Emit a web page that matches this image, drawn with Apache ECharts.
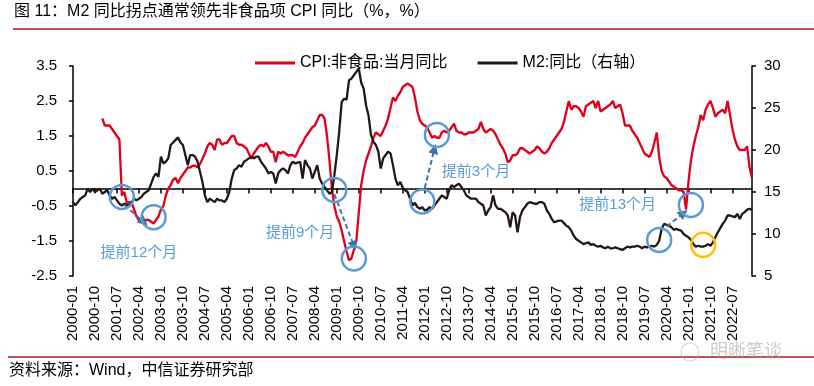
<!DOCTYPE html>
<html><head><meta charset="utf-8">
<script src="https://cdn.jsdelivr.net/npm/echarts@6/dist/echarts.min.js"></script>
<style>html,body{margin:0;padding:0;background:#fff;}#c{width:814px;height:386px;}</style>
</head><body><div id="c"></div>
<script>
// ---- data ----
const startYear = 2000;
const monthCount = 279; // 2000-01 .. 2023-03
const categories = [];
for (let k = 0; k < monthCount; k++) {
  const y = startYear + Math.floor(k / 12), m = (k % 12) + 1;
  categories.push(y + '-' + (m < 10 ? '0' : '') + m);
}
// CPI: non-food, yoy (%), left axis
const cpiNonFood = [
  null,null,null,null,null,null,null,null,null,null,null,null,
  2.0,1.8,1.8,1.8,1.7,1.6,1.5,1.4,-0.2,-0.1,-0.4,-0.4,
  -0.4,-0.6,-0.8,-0.9,-0.95,-0.9,-0.9,-0.9,-0.95,-1.0,-0.9,-0.8,
  -0.6,-0.5,-0.2,0.0,0.1,0.25,0.3,0.15,0.3,0.4,0.5,0.6,
  0.6,0.65,0.65,0.6,0.7,0.85,1.0,1.2,1.3,1.25,1.1,1.4,
  1.4,1.25,1.3,1.3,1.4,1.5,1.5,1.3,1.25,1.25,1.2,1.15,
  1.0,0.85,1.0,1.1,1.2,1.25,1.2,1.3,1.2,1.05,1.05,0.75,
  1.05,1.0,1.05,1.0,0.95,0.95,0.95,0.9,1.05,1.2,1.3,1.45,
  1.55,1.65,1.75,1.8,1.95,2.1,2.1,2.0,1.5,0.8,0.0,-0.5,
  -0.8,-0.95,-1.2,-1.5,-1.8,-2.05,-2.0,-1.75,-1.5,-0.7,0.1,0.5,
  0.8,1.0,1.2,1.45,1.6,1.55,1.5,1.65,1.8,2.0,2.3,2.6,
  2.5,2.65,2.75,2.9,2.95,3.0,2.95,2.9,2.6,2.2,1.95,1.85,
  1.8,1.75,1.6,1.45,1.5,1.45,1.45,1.6,1.65,1.6,1.65,1.75,
  1.85,1.65,1.6,1.6,1.55,1.55,1.6,1.6,1.6,1.65,1.7,1.9,
  1.7,1.6,1.65,1.7,1.65,1.55,1.4,1.25,1.15,1.0,0.75,0.8,
  0.95,0.95,1.0,1.15,1.15,1.1,1.05,1.0,1.05,1.1,1.2,1.15,
  1.05,1.0,1.05,1.15,1.3,1.4,1.5,1.6,1.7,1.9,2.2,2.5,
  2.25,2.35,2.35,2.3,2.2,2.05,2.35,2.4,2.45,2.5,2.3,2.5,
  2.2,2.25,2.3,2.35,2.4,2.5,2.3,2.35,2.4,2.15,1.8,1.8,
  1.8,1.65,1.55,1.45,1.3,1.15,1.0,0.95,0.9,1.05,1.3,1.6,
  0.9,0.5,0.35,0.3,0.2,0.1,0.05,0.0,-0.05,-0.05,-0.1,-0.6,
  0.2,0.8,1.2,1.5,1.75,2.1,1.95,2.25,2.4,2.5,2.3,2.05,
  2.15,2.2,2.25,2.15,2.5,2.1,1.7,1.4,1.2,1.1,1.1,1.1,
  1.2,0.6,0.3
];
// M2 yoy (%), right axis
const m2Yoy = [
  13.8,13.4,13.8,14.2,14.4,14.6,15.4,15.0,15.4,15.0,15.2,15.4,
  14.8,15.0,15.2,14.6,14.2,14.4,14.0,13.6,13.4,13.6,13.5,13.4,
  13.8,14.2,14.0,14.2,14.4,14.8,15.0,15.2,16.0,16.8,17.2,16.8,
  19.2,18.4,18.6,19.0,20.6,20.9,21.2,21.5,20.9,20.6,19.4,18.2,
  19.4,19.4,19.2,18.6,17.4,16.2,14.6,13.8,14.2,14.0,13.8,14.2,
  14.0,14.0,13.8,14.2,15.0,16.6,17.6,17.8,18.2,18.0,18.6,18.8,
  19.0,19.2,19.0,19.2,19.2,18.6,18.2,17.8,17.2,17.4,17.2,16.0,
  17.2,17.6,17.8,17.6,17.2,18.2,18.6,18.4,18.5,18.6,16.6,18.8,
  18.2,17.8,16.6,17.4,18.2,16.6,16.0,15.6,15.2,14.8,15.0,17.0,
  19.4,22.2,25.7,26.1,26.0,28.3,28.5,28.9,29.3,29.7,28.0,27.3,
  25.3,24.1,21.8,21.0,20.6,19.8,17.8,19.0,19.4,19.8,19.6,18.2,
  16.6,15.8,16.2,15.5,15.2,15.0,14.2,13.4,13.7,13.2,13.0,13.2,
  12.8,12.9,13.2,13.0,13.4,13.8,14.2,14.6,14.4,14.2,15.2,15.8,
  15.6,15.8,16.0,15.6,15.2,14.6,14.4,14.2,14.2,14.2,13.8,13.6,
  13.4,12.2,12.8,13.2,14.6,13.4,13.0,13.0,12.8,12.6,12.2,10.8,
  12.6,12.2,10.2,12.0,12.8,13.2,13.6,13.8,13.7,13.6,13.6,13.8,
  13.8,13.6,12.8,12.4,11.8,11.4,11.5,11.6,11.6,11.3,11.0,10.8,
  10.4,9.8,9.4,9.2,9.0,8.8,8.9,9.0,8.7,8.8,8.6,8.5,
  8.6,8.4,8.3,8.5,8.3,8.3,8.4,8.3,8.2,8.1,8.3,8.5,
  8.4,8.5,8.5,8.6,8.5,8.3,8.5,8.4,8.5,8.6,8.5,8.7,
  9.2,10.6,11.2,11.1,11.0,10.8,10.5,10.6,10.5,10.4,10.0,9.8,
  9.6,9.3,8.8,8.5,8.6,8.5,8.5,8.6,8.8,8.6,9.0,9.6,
  10.2,10.7,11.2,11.6,12.2,12.2,12.1,12.0,12.4,11.8,12.4,12.6,
  12.9,13.0,12.9
];
const leftTickLabels = ['-2.5','-1.5','-0.5','0.5','1.5','2.5','3.5'];
const rightTickLabels = ['5','10','15','20','25','30'];
const seriesNames = ['CPI:非食品:当月同比', 'M2:同比（右轴）'];

// annotation anchors in data space (category index, left-axis value)
const blueCircles = [[20,-0.24],[33,-0.82],[107,-0.04],[115,-2.0],[149,1.53],[143,-0.37],[240,-1.47],[253,-0.47]];
const orangeCircles = [[258,-1.61]];
const arrows = [[[21,-0.47],[29,-0.96]],[[107,-0.16],[115,-1.64]],[[144,0.01],[148,1.13]],[[243,-1.09],[250,-0.7]]];
const notes = [['提前12个月',27,-1.84],['提前9个月',93,-1.27],['提前3个月',165,0.47],['提前13个月',223,-0.46]];

// ---- chart ----
const FONT = '"Liberation Sans", "Noto Sans CJK SC", sans-serif';
const RED = '#e1001a', BLACK = '#231815', BLUE = '#5b9bd5', ARROW = '#44739f';
const chart = echarts.init(document.getElementById('c'), null, {renderer: 'canvas'});

const markData = [];
blueCircles.forEach(c => markData.push({coord: c, symbol: 'circle', symbolSize: 24,
  itemStyle: {color: 'rgba(0,0,0,0)', borderColor: BLUE, borderWidth: 2.5}, label: {show: false}}));
orangeCircles.forEach(c => markData.push({coord: c, symbol: 'circle', symbolSize: 24,
  itemStyle: {color: 'rgba(0,0,0,0)', borderColor: '#ffc000', borderWidth: 2.5}, label: {show: false}}));
notes.forEach(n => markData.push({coord: [n[1], n[2]], symbol: 'circle', symbolSize: 1,
  itemStyle: {color: 'rgba(0,0,0,0)'},
  label: {show: true, position: 'inside', formatter: n[0], color: BLUE, fontSize: 15, fontFamily: FONT}}));

chart.setOption({
  animation: false,
  textStyle: {fontFamily: FONT},
  grid: {left: 73, right: 62, top: 66, bottom: 110, containLabel: false},
  legend: {
    left: 250, top: 50, itemWidth: 40, itemHeight: 3, itemGap: 30, icon: 'rect',
    textStyle: {fontSize: 16, color: '#000', fontFamily: FONT},
    data: seriesNames
  },
  xAxis: [
    {type: 'category', data: categories, boundaryGap: false,
     axisLine: {onZero: true, lineStyle: {color: '#000', width: 1.5}},
     axisTick: {show: true, interval: 8, length: 5, lineStyle: {color: '#000', width: 1.5}},
     axisLabel: {show: false}, splitLine: {show: false}},
    {type: 'category', data: categories, boundaryGap: false, position: 'bottom',
     axisLine: {show: false, onZero: false}, axisTick: {show: false},
     axisLabel: {interval: 8, rotate: 90, margin: 10, fontSize: 15, color: '#000', fontFamily: FONT},
     splitLine: {show: false}}
  ],
  yAxis: [
    {type: 'value', min: -2.5, max: 3.5, interval: 1,
     axisLine: {show: true, lineStyle: {color: '#000', width: 1.5}},
     axisTick: {show: true, length: 4, lineStyle: {color: '#000', width: 1.5}},
     axisLabel: {margin: 16, fontSize: 15, color: '#000', fontFamily: FONT,
       formatter: v => { const s = (Math.round(v * 10) / 10).toFixed(1); return leftTickLabels.indexOf(s) >= 0 ? s : ''; }},
     splitLine: {show: false}},
    {type: 'value', min: 5, max: 30, interval: 5, position: 'right',
     axisLine: {show: true, lineStyle: {color: '#000', width: 1.5}},
     axisTick: {show: true, length: 4, lineStyle: {color: '#000', width: 1.5}},
     axisLabel: {margin: 12, fontSize: 15, color: '#000', fontFamily: FONT,
       formatter: v => { const s = String(Math.round(v)); return rightTickLabels.indexOf(s) >= 0 ? s : ''; }},
     splitLine: {show: false}}
  ],
  series: [
    {name: seriesNames[0], type: 'line', data: cpiNonFood, xAxisIndex: 0, yAxisIndex: 0,
     symbol: 'none', connectNulls: false, lineStyle: {color: RED, width: 2.3}, itemStyle: {color: RED}, z: 2,
     markPoint: {silent: true, animation: false, data: markData},
     markLine: {silent: true, animation: false, symbol: ['none', 'triangle'], symbolSize: 10,
       label: {show: false}, lineStyle: {type: [5, 3], color: ARROW, width: 2},
       data: arrows.map(a => [{coord: a[0]}, {coord: a[1]}])}},
    {name: seriesNames[1], type: 'line', data: m2Yoy, xAxisIndex: 0, yAxisIndex: 1,
     symbol: 'none', lineStyle: {color: BLACK, width: 2.3}, itemStyle: {color: BLACK}, z: 3}
  ],
  graphic: [
    {type: 'text', left: 14, top: 4, style: {text: '图 11：M2 同比拐点通常领先非食品项 CPI 同比（%，%）', font: '16px ' + FONT, fill: '#000'}},
    {type: 'line', shape: {x1: 13, y1: 29, x2: 814, y2: 29}, style: {stroke: '#a8141b', lineWidth: 1.5}},
    {type: 'line', shape: {x1: 8, y1: 357, x2: 814, y2: 357}, style: {stroke: '#a8141b', lineWidth: 1.5}},
    {type: 'text', left: 9, top: 363, style: {text: '资料来源：Wind，中信证券研究部', font: '16px ' + FONT, fill: '#000'}},
    {type: 'text', left: 710, top: 341, style: {text: '明晰笔谈', font: '18px "Noto Sans CJK SC", sans-serif', fill: 'rgba(160,160,160,0.55)'}},
    {type: 'circle', shape: {cx: 690, cy: 352, r: 9}, style: {fill: 'none', stroke: 'rgba(170,170,170,0.5)', lineWidth: 1.2}}
  ]
});
</script></body></html>
